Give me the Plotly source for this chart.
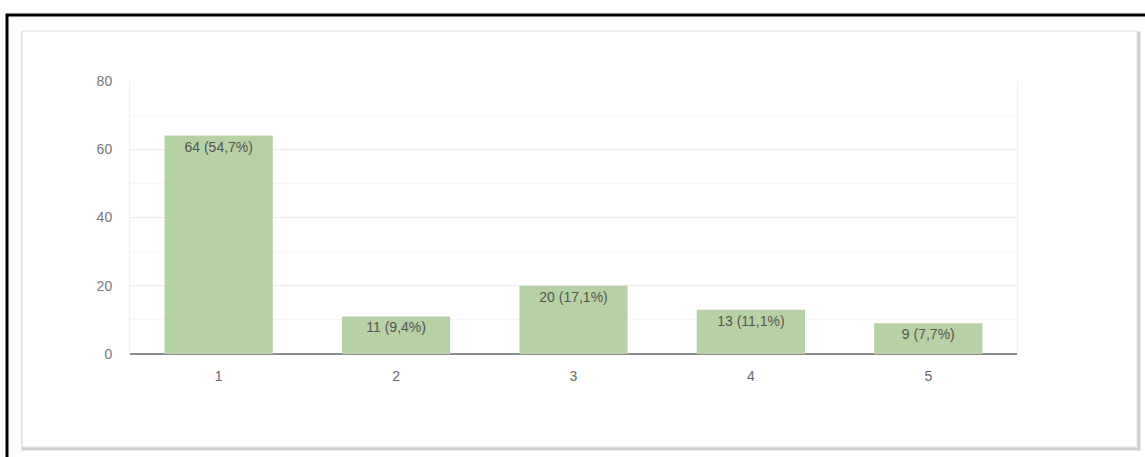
import plotly.graph_objects as go

categories = ["1", "2", "3", "4", "5"]
counts = [64, 11, 20, 13, 9]
labels = ["64 (54,7%)", "11 (9,4%)", "20 (17,1%)", "13 (11,1%)", "9 (7,7%)"]
y_ticks = [0, 20, 40, 60, 80]

W, H = 1145, 457
PL, PT, PR, PB = 130, 81, 1017, 354  # plot area in page pixels
pw, ph = PR - PL, PB - PT

def px(x):
    return (x - PL) / pw

def py(y):
    return 1 - (y - PT) / ph

fig = go.Figure()
fig.add_trace(go.Bar(
    x=categories, y=counts, text=labels,
    textposition="inside", insidetextanchor="end",
    textfont=dict(family="Liberation Sans, Arial, sans-serif", size=14, color="#555555"),
    marker=dict(color="#b7d1a6", line=dict(width=0)),
    width=0.61, cliponaxis=False,
))

fig.update_layout(
    width=W, height=H,
    margin=dict(l=PL, r=W - PR, t=PT, b=H - PB),
    paper_bgcolor="white", plot_bgcolor="white",
    showlegend=False,
    font=dict(family="Liberation Sans, Arial, sans-serif", size=14, color="#777777"),
    xaxis=dict(showgrid=False, ticks="outside", ticklen=9, tickcolor="white",
               showline=False, tickfont=dict(size=14, color="#666666")),
    yaxis=dict(range=[0, 80], tickvals=y_ticks, showgrid=True, gridcolor="#ececec",
               gridwidth=1, zeroline=True, zerolinecolor="#8c8c8c", zerolinewidth=2,
               ticks="outside", ticklen=14, tickcolor="white",
               minor=dict(dtick=10, showgrid=True, gridcolor="#f6f6f6", gridwidth=1),
               tickfont=dict(size=14, color="#777777"),
               showline=True, linecolor="#efefef", linewidth=1, mirror=True),
    shapes=[
        # shadow of inner card
        dict(type="rect", xref="paper", yref="paper", layer="below",
             x0=px(23), x1=px(1139), y0=py(449), y1=py(33),
             line=dict(color="#cfcfcf", width=3), fillcolor="rgba(0,0,0,0)"),
        # inner card
        dict(type="rect", xref="paper", yref="paper", layer="below",
             x0=px(22), x1=px(1137), y0=py(447), y1=py(31),
             line=dict(color="#dadada", width=1), fillcolor="white"),
        # black outer frame
        dict(type="rect", xref="paper", yref="paper", layer="above",
             x0=px(7), x1=px(1160), y0=py(470), y1=py(15),
             line=dict(color="black", width=3), fillcolor="rgba(0,0,0,0)"),
    ],
)

fig.write_html("out.html", config={"displayModeBar": False},
               post_script="document.body.style.margin='0';")
